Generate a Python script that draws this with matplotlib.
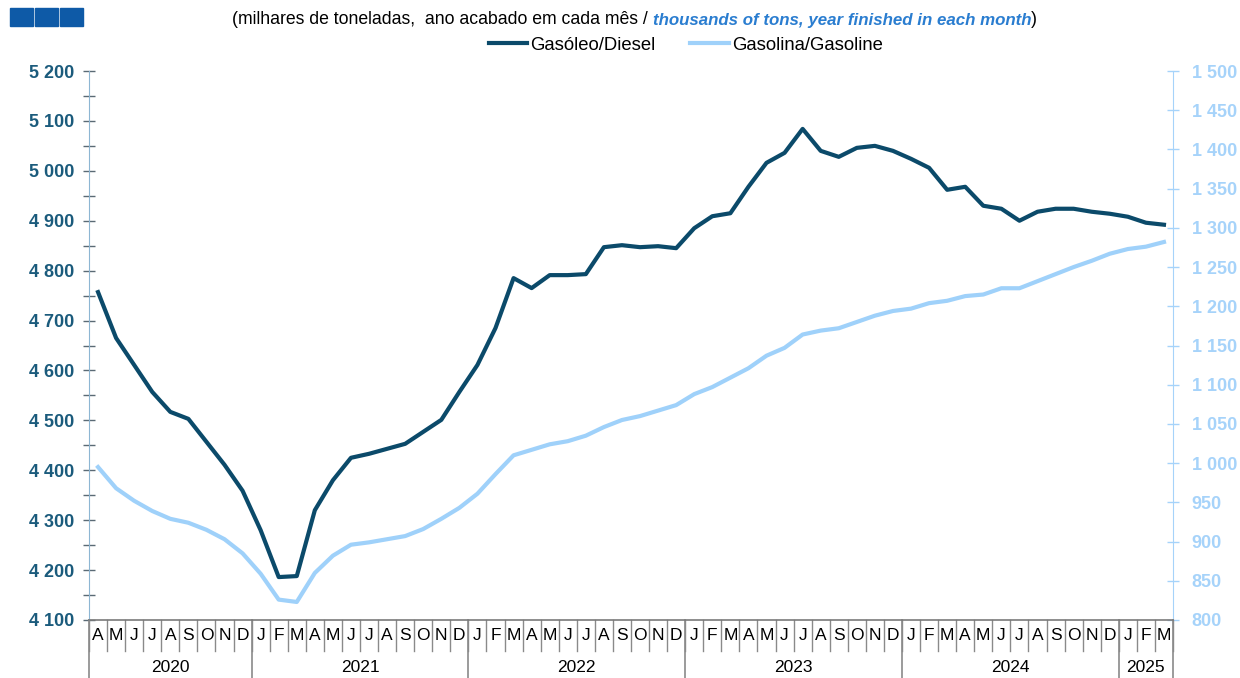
import matplotlib.pyplot as plt
import matplotlib.transforms as mtransforms
from matplotlib.patches import Rectangle
from matplotlib.ticker import FuncFormatter, MultipleLocator
import numpy as np

plt.rcParams['font.family'] = ['Liberation Sans', 'DejaVu Sans']

# months Apr 2020 .. Mar 2025
months = ['A', 'M', 'J', 'J', 'A', 'S', 'O', 'N', 'D'] + \
    ['J', 'F', 'M', 'A', 'M', 'J', 'J', 'A', 'S', 'O', 'N', 'D'] * 4 + ['J', 'F', 'M']
years = ['2020', '2021', '2022', '2023', '2024', '2025']
year_bounds = [0, 9, 21, 33, 45, 57, 60]

diesel = [4757, 4665, 4611, 4557, 4517, 4503, 4457, 4411, 4359,
          4280, 4186, 4188, 4320, 4380, 4425, 4433, 4443, 4453, 4477, 4501, 4557,
          4611, 4685, 4785, 4765, 4791, 4791, 4793, 4847, 4851, 4847, 4849, 4845,
          4885, 4909, 4915, 4968, 5016, 5036, 5084, 5040, 5028, 5046, 5050, 5040,
          5024, 5006, 4962, 4968, 4930, 4924, 4900, 4918, 4924, 4924, 4918, 4914,
          4908, 4896, 4892]
gasoline = [995, 968, 952, 939, 929, 924, 915, 903, 885,
            859, 826, 823, 860, 882, 896, 899, 903, 907, 916, 929, 943,
            961, 986, 1010, 1017, 1024, 1028, 1035, 1046, 1055, 1060, 1067, 1074,
            1088, 1097, 1109, 1121, 1137, 1147, 1164, 1169, 1172, 1180, 1188, 1194,
            1197, 1204, 1207, 1213, 1215, 1223, 1223, 1232, 1241, 1250, 1258, 1267,
            1273, 1276, 1282]

c_diesel = '#0B4A6A'
c_gas = '#9FD1FA'
c_left = '#1B5B7C'
c_right = '#A6D3FA'

fig = plt.figure(figsize=(12.4, 6.78), dpi=100)
ax = fig.add_axes([89 / 1240, 1 - 620 / 678, (1173 - 89) / 1240, (620 - 71) / 678])
ax2 = ax.twinx()

x = np.arange(len(months)) + 0.5
l1, = ax.plot(x, diesel, color=c_diesel, lw=3, label='Gasóleo/Diesel', zorder=3)
l2, = ax2.plot(x, gasoline, color=c_gas, lw=3, label='Gasolina/Gasoline', zorder=2)
ax.set_zorder(ax2.get_zorder() + 1)
ax.patch.set_visible(False)

ax.set_xlim(0, len(months))
ax.set_ylim(4100, 5200)
ax2.set_ylim(800, 1500)

fmt = FuncFormatter(lambda v, p: f'{int(v):,}'.replace(',', ' '))
ax.yaxis.set_major_locator(MultipleLocator(100))
ax.yaxis.set_minor_locator(MultipleLocator(50))
ax.yaxis.set_major_formatter(fmt)
ax2.yaxis.set_major_locator(MultipleLocator(50))
ax2.yaxis.set_major_formatter(fmt)

ax.tick_params(axis='y', which='both', direction='inout', length=9, width=1,
               color='#5a6a75', labelsize=13, labelcolor=c_left, pad=6)
for t in ax.get_yticklabels():
    t.set_fontweight('bold')
ax2.tick_params(axis='y', direction='inout', length=9, width=1,
                color=c_right, labelsize=13, labelcolor=c_right, pad=9)
for t in ax2.get_yticklabels():
    t.set_fontweight('bold')

for a in (ax, ax2):
    a.spines['top'].set_visible(False)
    a.set_xticks([])
ax.spines['left'].set_color('#8DB6D3')
ax.spines['right'].set_visible(False)
ax2.spines['left'].set_visible(False)
ax2.spines['right'].set_color(c_right)
ax2.spines['bottom'].set_visible(False)
ax.spines['bottom'].set_color('#7a7a7a')
ax.spines['bottom'].set_linewidth(1.2)

# month / year category axis
tr = mtransforms.blended_transform_factory(ax.transData, ax.transAxes)
h = 549
for i in range(len(months) + 1):
    ax.plot([i, i], [0, -31 / h], color='#8a8a8a', lw=1, transform=tr, clip_on=False)
for b in year_bounds:
    ax.plot([b, b], [0, -60 / h], color='#8a8a8a', lw=1.2, transform=tr, clip_on=False)
for i, m in enumerate(months):
    ax.text(i + 0.5, -16 / h, m, transform=tr, ha='center', va='center', fontsize=12.5)
for k, yr in enumerate(years):
    ax.text((year_bounds[k] + year_bounds[k + 1]) / 2, -48 / h, yr, transform=tr,
            ha='center', va='center', fontsize=12.5)

# subtitle
t1 = fig.text(232 / 1240, 1 - 20 / 678, '(milhares de toneladas,  ano acabado em cada mês / ',
              fontsize=12.7, va='center', ha='left')
t2 = fig.text(0, 0, 'thousands of tons, year finished in each month', fontsize=12.2,
              style='italic', fontweight='bold', color='#2A7DD0')
fig.canvas.draw()
bb = t1.get_window_extent()
t2.set_position(((bb.x1) / fig.dpi / 12.4, 1 - 20 / 678))
t2.set_va('center')
fig.canvas.draw()
bb2 = t2.get_window_extent()
fig.text(bb2.x1 / fig.dpi / 12.4, 1 - 20 / 678, ')', fontsize=12.7, va='center')

fig.legend(handles=[l1, l2], loc='center', bbox_to_anchor=(0.553, 1 - 45 / 678),
           ncol=2, frameon=False, fontsize=13.3, handlelength=2.1, columnspacing=1.9,
           handletextpad=0.15)

# logo squares
for x0 in (10, 35, 60):
    fig.patches.append(Rectangle((x0 / 1240, 1 - 26 / 678), 23 / 1240, 18 / 678,
                                 transform=fig.transFigure, color='#0E5AA7'))

fig.savefig('out.png', dpi=100)
